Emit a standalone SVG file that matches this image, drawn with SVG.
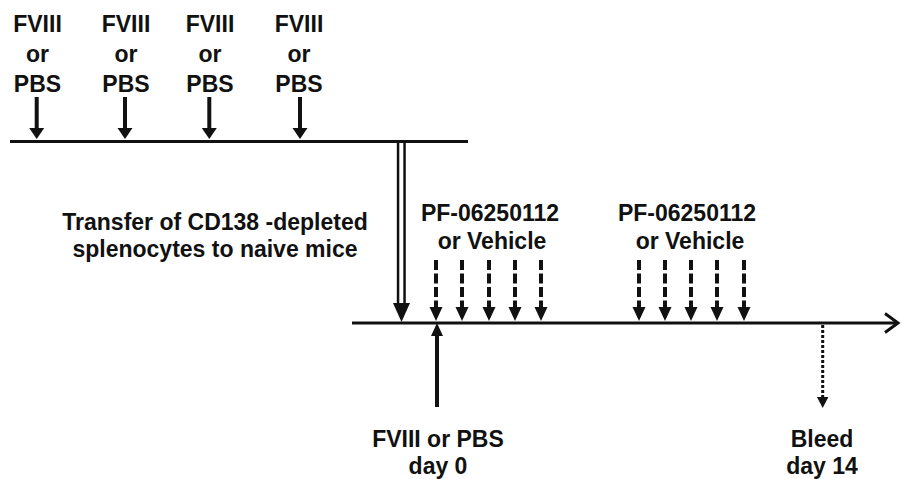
<svg xmlns="http://www.w3.org/2000/svg" width="901" height="479" viewBox="0 0 901 479">
<style>
  .t { font-family: "Liberation Sans", Arial, sans-serif; font-weight: bold; font-size: 23px; fill: #111; text-anchor: middle; }
  .ln { stroke: #111; fill: none; }
  .hd { fill: #111; stroke: none; }
</style>
<defs>
  <polygon id="hTop" points="-7.5,-11 7.5,-11 0,0"/>
  <polygon id="hDash" points="-6.5,-14 6.5,-14 0,0"/>
</defs>
<rect width="901" height="479" fill="#fff"/>

<g id="connectors">
  <!-- top timeline -->
  <line class="ln" x1="10" y1="141.5" x2="468" y2="141.5" stroke-width="3"/>
  <!-- main timeline -->
  <line class="ln" x1="352" y1="323" x2="897" y2="323" stroke-width="3"/>
  <polyline class="ln" points="885,313.5 898,323 885,332.5" stroke-width="3" stroke-linejoin="miter"/>

  <!-- top solid arrows -->
  <g class="hd">
    <line class="ln" x1="36.7" y1="97" x2="36.7" y2="130" stroke-width="4"/>
    <use href="#hTop" x="36.7" y="139"/>
    <line class="ln" x1="125" y1="97" x2="125" y2="130" stroke-width="4"/>
    <use href="#hTop" x="125" y="139"/>
    <line class="ln" x1="209.3" y1="97" x2="209.3" y2="130" stroke-width="4"/>
    <use href="#hTop" x="209.3" y="139"/>
    <line class="ln" x1="300" y1="97" x2="300" y2="130" stroke-width="4"/>
    <use href="#hTop" x="300" y="139"/>
  </g>

  <!-- double transfer arrow -->
  <line class="ln" x1="401.3" y1="141" x2="401.3" y2="306" stroke-width="9"/>
  <line x1="401.3" y1="143" x2="401.3" y2="306" stroke="#fff" stroke-width="4"/>
  <polygon class="hd" points="393,303 410,303 401.5,322"/>

  <!-- dashed arrows group 1 -->
  <g class="hd">
    <line class="ln" x1="436" y1="260" x2="436" y2="309" stroke-width="4" stroke-dasharray="10,3.5"/>
    <use href="#hDash" x="436" y="321"/>
    <line class="ln" x1="462" y1="260" x2="462" y2="309" stroke-width="4" stroke-dasharray="10,3.5"/>
    <use href="#hDash" x="462" y="321"/>
    <line class="ln" x1="489" y1="260" x2="489" y2="309" stroke-width="4" stroke-dasharray="10,3.5"/>
    <use href="#hDash" x="489" y="321"/>
    <line class="ln" x1="515" y1="260" x2="515" y2="309" stroke-width="4" stroke-dasharray="10,3.5"/>
    <use href="#hDash" x="515" y="321"/>
    <line class="ln" x1="541" y1="260" x2="541" y2="309" stroke-width="4" stroke-dasharray="10,3.5"/>
    <use href="#hDash" x="541" y="321"/>
  </g>
  <!-- dashed arrows group 2 -->
  <g class="hd">
    <line class="ln" x1="639" y1="260" x2="639" y2="309" stroke-width="4" stroke-dasharray="10,3.5"/>
    <use href="#hDash" x="639" y="321"/>
    <line class="ln" x1="665" y1="260" x2="665" y2="309" stroke-width="4" stroke-dasharray="10,3.5"/>
    <use href="#hDash" x="665" y="321"/>
    <line class="ln" x1="691" y1="260" x2="691" y2="309" stroke-width="4" stroke-dasharray="10,3.5"/>
    <use href="#hDash" x="691" y="321"/>
    <line class="ln" x1="717" y1="260" x2="717" y2="309" stroke-width="4" stroke-dasharray="10,3.5"/>
    <use href="#hDash" x="717" y="321"/>
    <line class="ln" x1="744" y1="260" x2="744" y2="309" stroke-width="4" stroke-dasharray="10,3.5"/>
    <use href="#hDash" x="744" y="321"/>
  </g>

  <!-- solid up arrow (day 0) -->
  <line class="ln" x1="437" y1="334" x2="437" y2="407" stroke-width="4"/>
  <polygon class="hd" points="431,336 443,336 437,323"/>

  <!-- dotted bleed arrow -->
  <line class="ln" x1="822.7" y1="325" x2="822.7" y2="399" stroke-width="3" stroke-dasharray="3,2"/>
  <polygon class="hd" points="817,397 828.4,397 822.7,408"/>
</g>

<g id="label-fviii-1">
  <text class="t" x="37.5" y="32">FVIII</text>
  <text class="t" x="37.5" y="62">or</text>
  <text class="t" x="37.5" y="92">PBS</text>
</g>
<g id="label-fviii-2">
  <text class="t" x="126" y="32">FVIII</text>
  <text class="t" x="126" y="62">or</text>
  <text class="t" x="126" y="92">PBS</text>
</g>
<g id="label-fviii-3">
  <text class="t" x="210" y="32">FVIII</text>
  <text class="t" x="210" y="62">or</text>
  <text class="t" x="210" y="92">PBS</text>
</g>
<g id="label-fviii-4">
  <text class="t" x="299" y="32">FVIII</text>
  <text class="t" x="299" y="62">or</text>
  <text class="t" x="299" y="92">PBS</text>
</g>
<g id="label-transfer">
  <text class="t" x="215" y="230">Transfer of CD138 -depleted</text>
  <text class="t" x="215" y="257">splenocytes to naive mice</text>
</g>
<g id="label-pf-1">
  <text class="t" x="490" y="221">PF-06250112</text>
  <text class="t" x="492" y="249">or Vehicle</text>
</g>
<g id="label-pf-2">
  <text class="t" x="687" y="221">PF-06250112</text>
  <text class="t" x="690" y="249">or Vehicle</text>
</g>
<g id="label-day0">
  <text class="t" x="438" y="447">FVIII or PBS</text>
  <text class="t" x="438" y="474">day 0</text>
</g>
<g id="label-bleed">
  <text class="t" x="822" y="447">Bleed</text>
  <text class="t" x="822" y="474">day 14</text>
</g>
</svg>
